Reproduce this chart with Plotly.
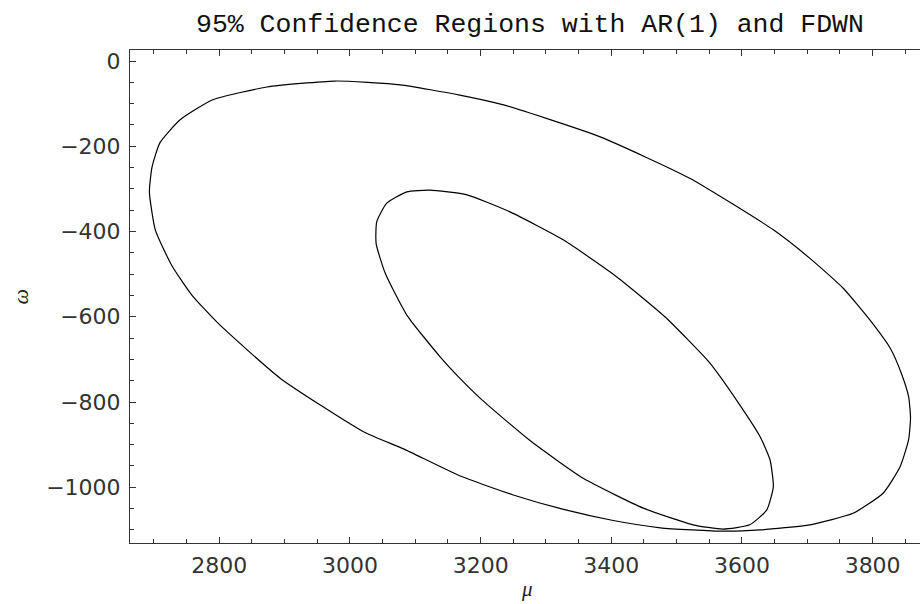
import plotly.graph_objects as go

# Outer confidence region (mu, omega)
outer_mu = [2977, 3077, 3168, 3235, 3383, 3520, 3648, 3704, 3755, 3796, 3827, 3844, 3855,
            3858, 3855, 3842, 3816, 3770, 3704, 3628, 3571, 3475, 3403, 3327, 3250, 3168,
            3082, 3020, 2893, 2798, 2758, 2727, 2702, 2693, 2697, 2709, 2740, 2790, 2873, 2977]
outer_omega = [-47, -56, -80, -103, -178, -275, -396, -463, -533, -608, -674, -733, -787,
               -837, -889, -952, -1014, -1061, -1088, -1100, -1103, -1095, -1078, -1052, -1018, -973,
               -910, -869, -744, -615, -549, -479, -396, -307, -249, -192, -138, -91, -61, -47]

# Inner confidence region (mu, omega)
inner_mu = [3122, 3179, 3245, 3327, 3408, 3482, 3550, 3595, 3628, 3643, 3648, 3638, 3612,
            3571, 3525, 3449, 3357, 3276, 3202, 3168, 3138, 3087, 3054, 3040, 3041, 3056, 3087, 3122]
inner_omega = [-303, -314, -354, -420, -506, -600, -707, -803, -882, -936, -999, -1053, -1088,
               -1098, -1088, -1049, -979, -891, -795, -744, -694, -596, -498, -428, -377, -334, -307, -303]

x_ticks = [2800, 3000, 3200, 3400, 3600, 3800]
y_ticks = [0, -200, -400, -600, -800, -1000]

title_text = "95% Confidence Regions with AR(1) and FDWN"
x_label = "μ"
y_label = "ω"

fig = go.Figure()
fig.add_trace(go.Scatter(x=outer_mu, y=outer_omega, mode="lines",
                         line=dict(color="black", width=1.2, shape="spline", smoothing=0.5),
                         showlegend=False))
fig.add_trace(go.Scatter(x=inner_mu, y=inner_omega, mode="lines",
                         line=dict(color="black", width=1.2, shape="spline", smoothing=0.5),
                         showlegend=False))

tick_font = dict(family="DejaVu Sans", size=22, color="#333")

fig.update_layout(
    width=920, height=604,
    margin=dict(l=130, r=0, t=50, b=61),
    paper_bgcolor="white", plot_bgcolor="white",
    xaxis=dict(range=[2663.3, 3872.5], tickvals=x_ticks, ticks="inside", ticklen=6,
               tickcolor="#333", showgrid=False, zeroline=False, showline=True,
               linecolor="#333", linewidth=1, mirror="ticks", tickfont=tick_font,
               minor=dict(dtick=50, ticks="inside", ticklen=4, tickcolor="#333", showgrid=False),
               ticklabelstandoff=3, automargin=False),
    yaxis=dict(range=[-1130.7, 25.8], tickvals=y_ticks, ticks="inside", ticklen=6,
               tickcolor="#333", showgrid=False, zeroline=False, showline=True,
               linecolor="#333", linewidth=1, tickfont=tick_font,
               minor=dict(dtick=50, ticks="inside", ticklen=4, tickcolor="#333", showgrid=False),
               ticklabelstandoff=4, automargin=False),
    annotations=[
        dict(text=title_text, xref="paper", yref="paper", x=0.506, y=1.0, yshift=25,
             xanchor="center", yanchor="middle", showarrow=False,
             font=dict(family="Liberation Mono, Courier New, monospace", size=26.5, color="#111")),
        dict(text=x_label, xref="paper", yref="paper", x=0.503, y=0, yshift=-46,
             xanchor="center", yanchor="middle", showarrow=False,
             font=dict(family="Liberation Serif", size=21, color="#222", style="italic")),
        dict(text=y_label, xref="paper", yref="paper", x=0, xshift=-110, y=0.5,
             xanchor="center", yanchor="middle", showarrow=False, textangle=-90,
             font=dict(family="Liberation Serif", size=22, color="#222", style="italic")),
    ],
)

fig.write_html("out.html", config={"displayModeBar": False},
               post_script="document.body.style.margin='0';document.body.style.overflow='hidden';")
